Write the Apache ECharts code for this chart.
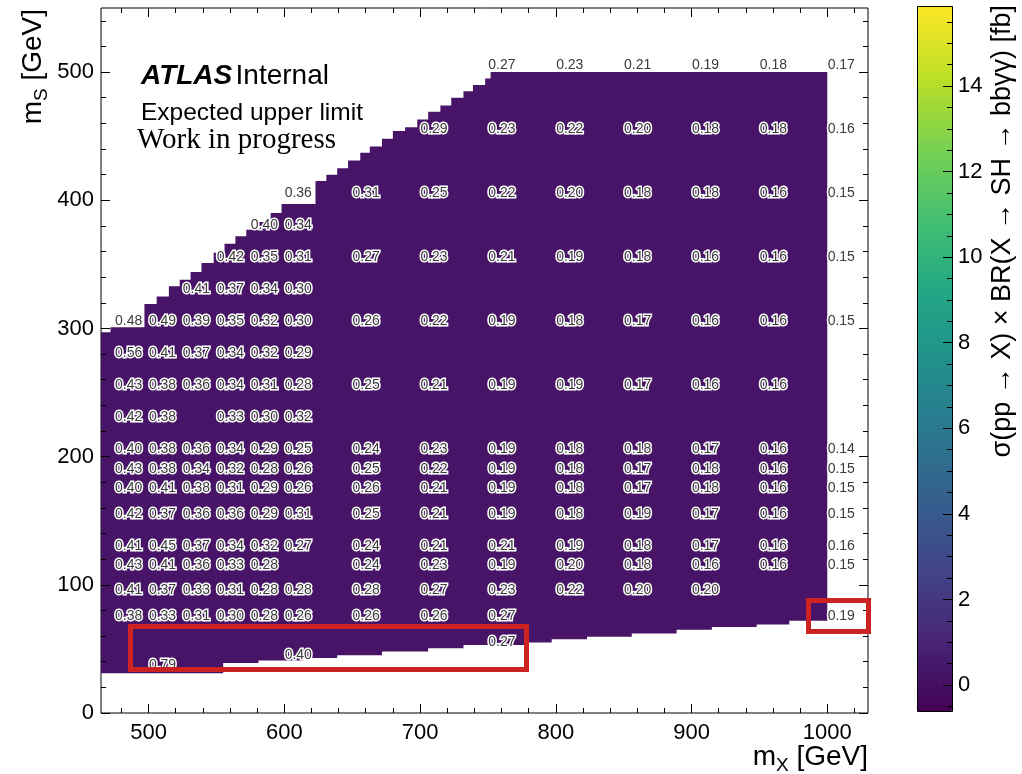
<!DOCTYPE html>
<html>
<head>
<meta charset="utf-8">
<script src="https://cdn.jsdelivr.net/npm/echarts@6.0.0/dist/echarts.min.js"></script>
<style>
  html, body { margin: 0; padding: 0; background: #fff; }
  #chart { width: 1022px; height: 774px; }
</style>
</head>
<body>
<div id="chart"></div>
<script>
// Signal mass points (GeV)
const MX = [475, 500, 525, 550, 575, 600, 650, 700, 750, 800, 850, 900, 950, 1000];
const MS_ROWS = [500, 450, 400, 375, 350, 325, 300, 275, 250, 225, 200, 185, 170, 150, 125, 110, 90, 70, 50, 40, 32];

// Expected upper limits [fb], one array per m_S row, aligned with MX (null = no point)
const ROW_500 = [null, null, null, null, null, null, null, null, 0.27, 0.23, 0.21, 0.19, 0.18, 0.17];
const ROW_450 = [null, null, null, null, null, null, null, 0.29, 0.23, 0.22, 0.20, 0.18, 0.18, 0.16];
const ROW_400 = [null, null, null, null, null, 0.36, 0.31, 0.25, 0.22, 0.20, 0.18, 0.18, 0.16, 0.15];
const ROW_375 = [null, null, null, null, 0.40, 0.34, null, null, null, null, null, null, null, null];
const ROW_350 = [null, null, null, 0.42, 0.35, 0.31, 0.27, 0.23, 0.21, 0.19, 0.18, 0.16, 0.16, 0.15];
const ROW_325 = [null, null, 0.41, 0.37, 0.34, 0.30, null, null, null, null, null, null, null, null];
const ROW_300 = [0.48, 0.49, 0.39, 0.35, 0.32, 0.30, 0.26, 0.22, 0.19, 0.18, 0.17, 0.16, 0.16, 0.15];
const ROW_275 = [0.56, 0.41, 0.37, 0.34, 0.32, 0.29, null, null, null, null, null, null, null, null];
const ROW_250 = [0.43, 0.38, 0.36, 0.34, 0.31, 0.28, 0.25, 0.21, 0.19, 0.19, 0.17, 0.16, 0.16, null];
const ROW_225 = [0.42, 0.38, null, 0.33, 0.30, 0.32, null, null, null, null, null, null, null, null];
const ROW_200 = [0.40, 0.38, 0.36, 0.34, 0.29, 0.25, 0.24, 0.23, 0.19, 0.18, 0.18, 0.17, 0.16, 0.14];
const ROW_185 = [0.43, 0.38, 0.34, 0.32, 0.28, 0.26, 0.25, 0.22, 0.19, 0.18, 0.17, 0.18, 0.16, 0.15];
const ROW_170 = [0.40, 0.41, 0.38, 0.31, 0.29, 0.26, 0.26, 0.21, 0.19, 0.18, 0.17, 0.18, 0.16, 0.15];
const ROW_150 = [0.42, 0.37, 0.36, 0.36, 0.29, 0.31, 0.25, 0.21, 0.19, 0.18, 0.19, 0.17, 0.16, 0.15];
const ROW_125 = [0.41, 0.45, 0.37, 0.34, 0.32, 0.27, 0.24, 0.21, 0.21, 0.19, 0.18, 0.17, 0.16, 0.16];
const ROW_110 = [0.43, 0.41, 0.36, 0.33, 0.28, null, 0.24, 0.23, 0.19, 0.20, 0.18, 0.16, 0.16, 0.15];
const ROW_90  = [0.41, 0.37, 0.33, 0.31, 0.28, 0.28, 0.28, 0.27, 0.23, 0.22, 0.20, 0.20, null, null];
const ROW_70  = [0.38, 0.33, 0.31, 0.30, 0.28, 0.26, 0.26, 0.26, 0.27, null, null, null, null, 0.19];
const ROW_50  = [null, null, null, null, null, null, null, null, 0.27, null, null, null, null, null];
const ROW_40  = [null, null, null, null, null, 0.40, null, null, null, null, null, null, null, null];
const ROW_32  = [null, 0.79, null, null, null, null, null, null, null, null, null, null, null, null];
const LIMIT_ROWS = [ROW_500, ROW_450, ROW_400, ROW_375, ROW_350, ROW_325, ROW_300, ROW_275, ROW_250,
  ROW_225, ROW_200, ROW_185, ROW_170, ROW_150, ROW_125, ROW_110, ROW_90, ROW_70, ROW_50, ROW_40, ROW_32];

// Edges of the interpolated limit surface: [m_X where the step starts, m_S]
const UPPER_EDGE = [[465, 297], [472, 301], [497, 319], [506, 325], [515, 333], [523, 338], [531, 344],
  [539, 351], [548, 359], [556, 366], [564, 372], [572, 377], [581, 383], [590, 390], [598, 397],
  [623, 415], [631, 420], [639, 425], [647, 431], [656, 437], [663, 442], [672, 448], [680, 454],
  [689, 457], [698, 463], [706, 469], [715, 474], [723, 480], [732, 485], [739, 490], [748, 495], [752, 500]];
const LOWER_EDGE = [[465, 31], [555, 39], [581, 41], [614, 43], [639, 45], [672, 48], [706, 50.5],
  [732, 53], [777, 55], [797, 57.5], [823, 59.5], [856, 62], [889, 65], [915, 67], [948, 69], [972, 72]];
const SURFACE_X_END = 1000;

// Axis ranges and ticks
const X_MIN = 465, X_MAX = 1030;
const Y_MIN = 0, Y_MAX = 550;
const Z_MIN = -0.63, Z_MAX = 15.87;
const X_MAJOR = [500, 600, 700, 800, 900, 1000];
const X_MINOR = [480, 520, 540, 560, 580, 620, 640, 660, 680, 720, 740, 760, 780, 820, 840, 860, 880, 920, 940, 960, 980, 1020];
const Y_MAJOR = [0, 100, 200, 300, 400, 500];
const Y_MINOR = [20, 40, 60, 80, 120, 140, 160, 180, 220, 240, 260, 280, 320, 340, 360, 380, 420, 440, 460, 480, 520, 540];
const Z_MAJOR = [0, 2, 4, 6, 8, 10, 12, 14];
const Z_MINOR = [-0.5, 0.5, 1, 1.5, 2.5, 3, 3.5, 4.5, 5, 5.5, 6.5, 7, 7.5, 8.5, 9, 9.5, 10.5, 11, 11.5, 12.5, 13, 13.5, 14.5, 15, 15.5];

const VIRIDIS = ['#440154', '#482475', '#414487', '#355f8d', '#2a788e', '#21918c',
  '#22a884', '#44bf70', '#7ad151', '#bddf26', '#fde725'];

const FONT = 'Liberation Sans, Arial, Helvetica, sans-serif';
const SERIF = 'Liberation Serif, Times New Roman, serif';

// Point list for the value labels
const points = [];
MS_ROWS.forEach((ms, r) => {
  LIMIT_ROWS[r].forEach((v, c) => {
    if (v !== null) points.push([MX[c], ms, v]);
  });
});

// Outline of the filled surface as a staircase polygon
function surfaceOutline() {
  const pts = [];
  UPPER_EDGE.forEach((p, i) => {
    const nx = i < UPPER_EDGE.length - 1 ? UPPER_EDGE[i + 1][0] : SURFACE_X_END;
    pts.push([p[0], p[1]], [nx, p[1]]);
  });
  for (let i = LOWER_EDGE.length - 1; i >= 0; i--) {
    const nx = i < LOWER_EDGE.length - 1 ? LOWER_EDGE[i + 1][0] : SURFACE_X_END;
    pts.push([nx, LOWER_EDGE[i][1]], [LOWER_EDGE[i][0], LOWER_EDGE[i][1]]);
  }
  return pts;
}
const outline = surfaceOutline();

function tickAxis(grid, pos, min, max, values, len, withLabel, extra) {
  return {
    type: 'value', gridIndex: grid, position: pos, min: min, max: max, offset: 0, z: 10,
    axisLine: { show: false, onZero: false },
    axisTick: { show: true, inside: true, length: len, customValues: values,
      lineStyle: { color: '#000', width: 1 } },
    axisLabel: withLabel
      ? Object.assign({ show: true, customValues: values, color: '#000', fontSize: 22, fontFamily: FONT,
          formatter: v => String(v) }, extra || {})
      : { show: false },
    splitLine: { show: false }
  };
}

const chart = echarts.init(document.getElementById('chart'), null, { renderer: 'canvas' });

const titleRich = {
  m: { fontSize: 28, fontFamily: FONT, fill: '#000', lineHeight: 36, verticalAlign: 'middle' },
  s: { fontSize: 19, fontFamily: FONT, fill: '#000', lineHeight: 18, padding: [18, 0, 0, 0], verticalAlign: 'middle' }
};

const option = {
  backgroundColor: '#fff',
  animation: false,
  grid: [
    { left: 101, top: 8, width: 767, height: 705, show: true, borderColor: '#000', borderWidth: 1,
      backgroundColor: 'transparent', containLabel: false, outerBoundsMode: 'none' },
    { left: 917, top: 6, width: 35, height: 706, show: false, containLabel: false, outerBoundsMode: 'none' }
  ],
  xAxis: [
    tickAxis(0, 'bottom', X_MIN, X_MAX, X_MAJOR, 9, true, { margin: 9 }),
    tickAxis(0, 'bottom', X_MIN, X_MAX, X_MINOR, 5, false),
    tickAxis(0, 'top', X_MIN, X_MAX, X_MAJOR, 9, false),
    tickAxis(0, 'top', X_MIN, X_MAX, X_MINOR, 5, false),
    { type: 'value', gridIndex: 1, show: false, min: 0, max: 1 }
  ],
  yAxis: [
    tickAxis(0, 'left', Y_MIN, Y_MAX, Y_MAJOR, 9, true, { margin: 7 }),
    tickAxis(0, 'left', Y_MIN, Y_MAX, Y_MINOR, 5, false),
    tickAxis(0, 'right', Y_MIN, Y_MAX, Y_MAJOR, 9, false),
    tickAxis(0, 'right', Y_MIN, Y_MAX, Y_MINOR, 5, false),
    tickAxis(1, 'right', Z_MIN, Z_MAX, Z_MAJOR, 9, true, { margin: 6 }),
    tickAxis(1, 'right', Z_MIN, Z_MAX, Z_MINOR, 5, false)
  ],
  visualMap: {
    type: 'continuous', min: Z_MIN, max: Z_MAX, orient: 'vertical', z: 1,
    left: 917, top: 6, itemWidth: 35, itemHeight: 706, padding: 0,
    calculable: false, showLabel: false, text: null, hoverLink: false,
    seriesIndex: 1, dimension: 2,
    inRange: { color: VIRIDIS }
  },
  series: [
    {
      type: 'custom', name: 'surface', xAxisIndex: 0, yAxisIndex: 0, z: 2, silent: true, clip: true,
      data: [[X_MIN, Y_MIN]],
      renderItem: function (params, api) {
        return {
          type: 'polygon',
          shape: { points: outline.map(p => api.coord(p)) },
          style: { fill: '#481467', stroke: null }
        };
      }
    },
    {
      type: 'scatter', name: 'limits', xAxisIndex: 0, yAxisIndex: 0, z: 3, silent: true,
      symbolSize: 0,
      data: points,
      label: {
        show: true, position: 'inside', offset: [14, -7], opacity: 1,
        formatter: p => p.value[2].toFixed(2),
        fontSize: 14, fontFamily: FONT, color: '#3a3a3a',
        textBorderColor: '#ffffff', textBorderWidth: 3
      }
    }
  ],
  graphic: [
    { type: 'text', x: 141, y: 76, z: 20, silent: true,
      style: { text: '{b|ATLAS} {r|Internal}', verticalAlign: 'middle', align: 'left',
        rich: {
          b: { fontSize: 28, fontWeight: 'bold', fontStyle: 'italic', fontFamily: FONT, fill: '#000' },
          r: { fontSize: 28, fontFamily: FONT, fill: '#000' }
        } } },
    { type: 'text', x: 141, y: 113, z: 20, silent: true,
      style: { text: 'Expected upper limit', fontSize: 24.5, fontFamily: FONT, fill: '#000',
        align: 'left', verticalAlign: 'middle' } },
    { type: 'text', x: 137, y: 140, z: 20, silent: true,
      style: { text: 'Work in progress', fontSize: 29, fontFamily: SERIF, fill: '#000',
        align: 'left', verticalAlign: 'middle' } },
    // axis titles
    { type: 'text', x: 868, y: 757, z: 20, silent: true,
      style: { text: '{m|m}{s|X}{m| [GeV]}', align: 'right', verticalAlign: 'middle', rich: titleRich } },
    { type: 'text', x: 33, y: 9, z: 20, silent: true, rotation: Math.PI / 2,
      style: { text: '{m|m}{s|S}{m| [GeV]}', align: 'right', verticalAlign: 'middle', rich: titleRich } },
    { type: 'text', x: 1003, y: 5, z: 20, silent: true, rotation: Math.PI / 2,
      style: { text: 'σ(pp → X) × BR(X → SH → bbγγ) [fb]', fontSize: 27, fontFamily: FONT, fill: '#000',
        align: 'right', verticalAlign: 'middle' } },
    // colour bar frame
    { type: 'rect', z: 20, silent: true,
      shape: { x: 917.5, y: 6.5, width: 35, height: 705 },
      style: { fill: 'none', stroke: '#000', lineWidth: 1 } },
    // highlighted regions
    { type: 'rect', z: 30, silent: true,
      shape: { x: 130.5, y: 626.5, width: 396, height: 43 },
      style: { fill: 'none', stroke: '#cc2222', lineWidth: 5 } },
    { type: 'rect', z: 30, silent: true,
      shape: { x: 808.5, y: 600.5, width: 60, height: 31 },
      style: { fill: 'none', stroke: '#cc2222', lineWidth: 5 } }
  ]
};

chart.setOption(option);
</script>
</body>
</html>
